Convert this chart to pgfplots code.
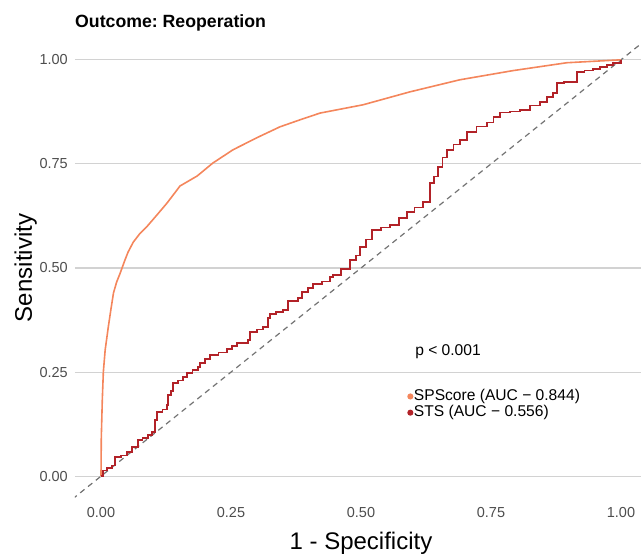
\documentclass[border=0pt]{standalone}
\usepackage{fontspec}
\setmainfont{Liberation Sans}
\usepackage{pgfplots}
\pgfplotsset{compat=1.18}
\frenchspacing

\definecolor{spscore}{RGB}{244,134,92}
\definecolor{sts}{RGB}{178,34,40}
\definecolor{gridgray}{RGB}{210,210,210}
\definecolor{ticktext}{RGB}{77,77,77}

\begin{document}
\begin{tikzpicture}
\useasboundingbox (-75bp,-58bp) rectangle (566bp,497bp);
\begin{axis}[
    at={(0,0)}, anchor=south west,
    scale only axis,
    width=566bp, height=458bp,
    xmin=-0.05, xmax=1.0385,
    ymin=-0.05, ymax=1.05,
    xtick={0,0.25,0.5,0.75,1},
    ytick={0,0.25,0.5,0.75,1},
    xticklabels={0.00,0.25,0.50,0.75,1.00},
    yticklabels={0.00,0.25,0.50,0.75,1.00},
    /pgf/number format/assume math mode=true,
    axis line style={draw=none},
    major tick style={draw=none},
    ymajorgrids,
    grid style={gridgray, line width=1.1bp},
    ticklabel style={font=\fontsize{14.5bp}{16bp}\selectfont, text=ticktext},
    xticklabel style={anchor=north, inner sep=0pt, yshift=-10bp},
    yticklabel style={anchor=east, inner sep=0pt, xshift=-7bp},
    clip=true,
    legend style={at={(axis cs:0.583,0.172)}, anchor=west, draw=none, fill=none,
        font=\fontsize{15.6bp}{16bp}\selectfont,
        nodes={inner sep=0.6bp, text height=11bp, text depth=3.5bp},
        row sep=0.5bp},
    legend image code/.code={\fill (0.15em,0bp) circle (2.2bp);},
    legend cell align=left,
]
% diagonal reference
\addplot[color=gray!90!black, dashed, dash pattern=on 5.5bp off 4.5bp, line width=1.2bp, forget plot]
    coordinates {(-0.1,-0.1) (1.1,1.1)};
% SPScore
\addplot[color=spscore, line width=1.6bp, mark=none] coordinates {
(0,0) (0.0006,0.094) (0.0025,0.183) (0.0045,0.25) (0.008,0.303) (0.014,0.358)
(0.019,0.4) (0.024,0.44) (0.030,0.466) (0.037,0.488) (0.046,0.519) (0.052,0.538)
(0.062,0.562) (0.075,0.583) (0.088,0.599) (0.108,0.628) (0.127,0.656)
(0.152,0.697) (0.185,0.721) (0.215,0.752) (0.254,0.784) (0.30,0.813)
(0.344,0.839) (0.383,0.856) (0.421,0.872) (0.504,0.892) (0.594,0.923)
(0.69,0.952) (0.792,0.974) (0.896,0.993) (1,1)
};
\addlegendentry{SPScore (AUC − 0.844)}
% STS
\addplot[color=sts, line width=1.6bp, mark=none, const plot] coordinates {
(0,0) (0.004,0.014) (0.012,0.02) (0.021,0.026) (0.027,0.046) (0.038,0.05)
(0.05,0.058) (0.06,0.07) (0.071,0.087) (0.08,0.092) (0.09,0.099) (0.098,0.106)
(0.104,0.135) (0.108,0.154) (0.118,0.16) (0.127,0.171) (0.129,0.195)
(0.135,0.205) (0.138,0.224) (0.148,0.23) (0.158,0.238) (0.165,0.248)
(0.176,0.255) (0.187,0.262) (0.19,0.272) (0.2,0.282) (0.21,0.291)
(0.226,0.297) (0.242,0.305) (0.252,0.312) (0.262,0.32) (0.283,0.327)
(0.287,0.346) (0.3,0.352) (0.312,0.358) (0.321,0.38) (0.325,0.389)
(0.337,0.394) (0.35,0.399) (0.36,0.421) (0.379,0.428) (0.386,0.442)
(0.398,0.452) (0.408,0.462) (0.425,0.468) (0.44,0.478) (0.446,0.483)
(0.462,0.498) (0.479,0.519) (0.49,0.53) (0.498,0.55) (0.51,0.568)
(0.521,0.591) (0.539,0.597) (0.556,0.603) (0.573,0.62) (0.588,0.635)
(0.603,0.645) (0.619,0.659) (0.633,0.704) (0.64,0.72) (0.648,0.743)
(0.657,0.765) (0.665,0.784) (0.678,0.797) (0.69,0.808) (0.704,0.827)
(0.722,0.84) (0.742,0.849) (0.755,0.862) (0.767,0.873) (0.786,0.876)
(0.806,0.88) (0.825,0.89) (0.844,0.899) (0.858,0.91) (0.869,0.921)
(0.877,0.945) (0.89,0.946) (0.902,0.947) (0.915,0.971) (0.93,0.974)
(0.946,0.978) (0.96,0.983) (0.973,0.988) (0.985,0.992) (1,1)
};
\addlegendentry{STS (AUC − 0.556)}
\node[anchor=west, inner sep=0pt, font=\fontsize{15.6bp}{16bp}\selectfont]
    at (axis cs:0.604,0.30) {p < 0.001};
\end{axis}
% title and axis labels
\node[anchor=base west, inner sep=0pt, font=\fontsize{17.7bp}{20bp}\selectfont\bfseries]
    at (0bp,469bp) {Outcome: Reoperation};
\node[anchor=base, inner sep=0pt, font=\fontsize{24bp}{26bp}\selectfont]
    at (286bp,-52bp) {1 - Specificity};
\node[anchor=base, rotate=90, inner sep=0pt, font=\fontsize{24bp}{26bp}\selectfont]
    at (-43bp,229bp) {Sensitivity};
\end{tikzpicture}
\end{document}
